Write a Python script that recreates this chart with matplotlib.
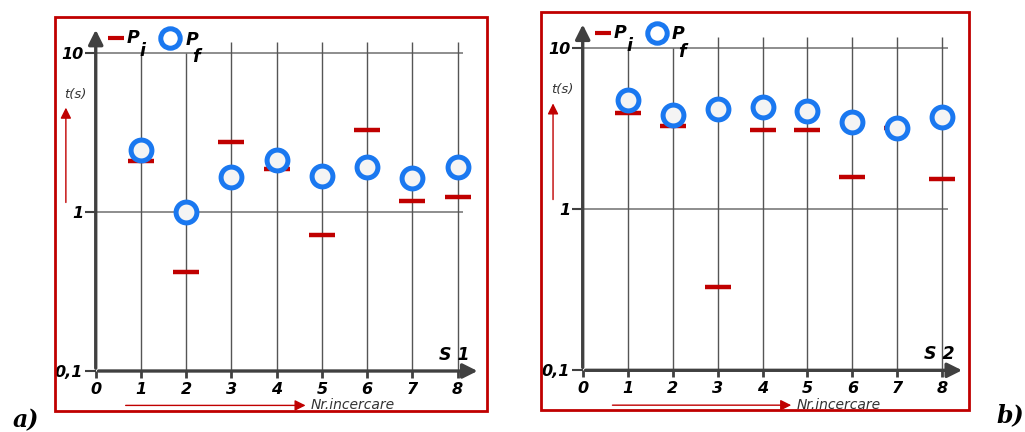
import numpy as np
import matplotlib.pyplot as plt
from matplotlib.patches import Rectangle

# incercari 1..8, timpi in secunde (scara logaritmica)
nr = [1, 2, 3, 4, 5, 6, 7, 8]

# S1
pi_s1 = [2.08, 0.42, 2.74, 1.85, 0.72, 3.28, 1.17, 1.24]
pf_s1 = [2.45, 1.00, 1.65, 2.13, 1.68, 1.90, 1.63, 1.91]

# S2
pi_s2 = [3.95, 3.29, 0.33, 3.10, 3.10, 1.58, 3.20, 1.53]
pf_s2 = [4.73, 3.84, 4.18, 4.32, 4.08, 3.48, 3.17, 3.71]

x_labels = ["0", "1", "2", "3", "4", "5", "6", "7", "8"]
y_ticks = [0.1, 1, 10]
y_labels = ["0,1", "1", "10"]

ROSU = "#c00000"
ALBASTRU = "#1a78f0"
GRI = "#404040"
BI = dict(fontweight="bold", fontstyle="italic")

fig = plt.figure(figsize=(10.25, 4.32), dpi=100)


def panou(rect, pi, pf, eticheta):
    ax = fig.add_axes(rect)
    ax.set_yscale("log")
    ax.set_xlim(0, 8.5)
    ax.set_ylim(0.1, 14.5)
    for s in ax.spines.values():
        s.set_visible(False)

    # grila
    ax.hlines([1, 10], 0, 8.12, color="#7a7a7a", lw=1.2, zorder=1)
    ax.vlines(nr[:2], 0.1, 10, color="#555555", lw=1.0, zorder=1)
    ax.vlines(nr[2:], 0.1, 11.6, color="#555555", lw=1.0, zorder=1)

    # axe cu sageti
    ax.annotate("", xy=(1.0, 0), xytext=(0, 0), xycoords="axes fraction",
                arrowprops=dict(arrowstyle="-|>", color=GRI, lw=2.4, mutation_scale=22))
    ax.annotate("", xy=(0, 1.0), xytext=(0, 0), xycoords="axes fraction",
                arrowprops=dict(arrowstyle="-|>", color=GRI, lw=2.4, mutation_scale=22))

    ax.set_xticks(range(9))
    ax.set_xticklabels(x_labels, fontsize=11.5, **BI)
    ax.set_yticks(y_ticks)
    ax.set_yticklabels(y_labels, fontsize=11.5, **BI)
    ax.minorticks_off()
    ax.tick_params(axis="x", length=5, width=2, color=GRI, pad=3)
    ax.tick_params(axis="y", length=8, width=1.5, color=GRI, pad=1)

    ax.plot(nr, pi, ls="none", marker="_", ms=19, mew=3.2, color=ROSU, zorder=3)
    ax.plot(nr, pf, ls="none", marker="o", ms=15, mew=3.6, mec=ALBASTRU,
            mfc="#f4f4f4", zorder=4)

    # legenda
    ax.plot([0.45], [12.3], marker="_", ms=12, mew=3, color=ROSU, clip_on=False)
    ax.text(0.68, 12.3, "P", fontsize=12.5, va="center", ha="left", **BI)
    ax.text(0.97, 10.3, "i", fontsize=12.5, va="center", ha="left", **BI)
    ax.plot([1.65], [12.3], marker="o", ms=14, mew=3.6, mec=ALBASTRU, mfc="white",
            clip_on=False, ls="none")
    ax.text(1.98, 12.1, "P", fontsize=12.5, va="center", ha="left", **BI)
    ax.text(2.12, 9.4, "f", fontsize=12.5, va="center", ha="left", **BI)

    ax.text(8.27, 0.126, eticheta, fontsize=12.5, ha="right", va="center", **BI)

    # t(s) cu sageata rosie
    ax.annotate("", xy=(-0.66, 4.7), xytext=(-0.66, 1.1),
                arrowprops=dict(arrowstyle="-|>", color=ROSU, lw=1.0, mutation_scale=16),
                annotation_clip=False)
    ax.text(-0.46, 5.5, "t(s)", fontsize=9.5, fontstyle="italic", color="#333333",
            ha="center", va="center")

    # Nr.incercare cu sageata rosie, sub axa
    ax.annotate("", xy=(4.7, -0.1), xytext=(0.6, -0.1),
                xycoords=("data", "axes fraction"),
                arrowprops=dict(arrowstyle="-|>", color=ROSU, lw=1.0, mutation_scale=16),
                annotation_clip=False)
    ax.text(4.75, -0.1, "Nr.incercare", fontsize=10, fontstyle="italic",
            color="#333333", ha="left", va="center",
            transform=ax.get_xaxis_transform())
    return ax


ax1 = panou([0.0934, 0.1412, 0.3752, 0.7963], pi_s1, pf_s1, "S 1")
ax2 = panou([0.5685, 0.1428, 0.3728, 0.8070], pi_s2, pf_s2, "S 2")

# rame rosii
fig.patches.append(Rectangle((55 / 1025, 1 - 411 / 432), (487 - 55) / 1025, (411 - 17) / 432,
                             transform=fig.transFigure, fill=False, ec=ROSU, lw=2))
fig.patches.append(Rectangle((541 / 1025, 1 - 410 / 432), (969 - 541) / 1025, (410 - 12) / 432,
                             transform=fig.transFigure, fill=False, ec=ROSU, lw=2))

fig.text(0.012, 0.028, "a)", fontsize=17, family="DejaVu Serif", ha="left", va="center", **BI)
fig.text(0.972, 0.04, "b)", fontsize=17, family="DejaVu Serif", ha="left", va="center", **BI)

fig.savefig("out.png", dpi=100)
